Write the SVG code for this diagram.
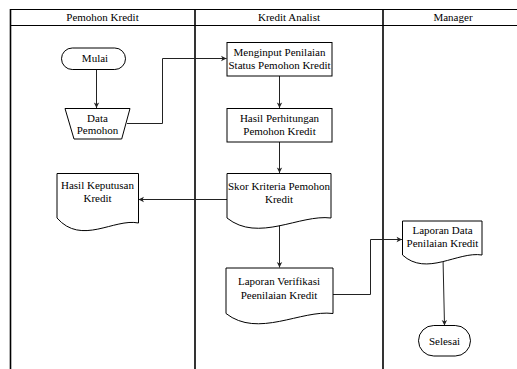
<svg xmlns="http://www.w3.org/2000/svg" width="517" height="369" viewBox="0 0 517 369">
<defs>
<style>
.t text{font-family:'Liberation Serif','Times New Roman','DejaVu Serif',serif;font-size:11px;fill:#000;text-anchor:middle}
.lane{stroke:#000;stroke-width:1.6;fill:none}
.hd{stroke:#000;stroke-width:1.2;fill:none}
.sh{fill:#fff;stroke:#000;stroke-width:1}
.cn{fill:none;stroke:#222;stroke-width:1}
</style>
<marker id="ah" markerWidth="7" markerHeight="7" refX="6" refY="3.5" orient="auto" markerUnits="userSpaceOnUse">
<path d="M0.5,0.8 L6,3.5 L0.5,6.2 L2,3.5 z" fill="#222"/>
</marker>
</defs>
<rect width="517" height="369" fill="#fff"/>
<g class="t" font-family="Liberation Serif, serif" font-size="11" text-anchor="middle">
<g id="lanes">
<line class="hd" x1="10" y1="9.5" x2="517" y2="9.5"/>
<line class="hd" x1="10" y1="25.5" x2="517" y2="25.5"/>
<line class="lane" x1="10.5" y1="9" x2="10.5" y2="369"/>
<line class="lane" x1="195" y1="9" x2="195" y2="369"/>
<line class="lane" x1="383" y1="9" x2="383" y2="369"/>
<text x="102.5" y="20.5">Pemohon Kredit</text>
<text x="289" y="20.5">Kredit Analist</text>
<text x="453" y="20.5">Manager</text>
</g>
<g id="connectors">
<line class="cn" x1="96.5" y1="69.5" x2="96.5" y2="108" marker-end="url(#ah)"/>
<polyline class="cn" points="127,123.5 162.5,123.5 162.5,58.5 226.5,58.5" marker-end="url(#ah)"/>
<line class="cn" x1="279.5" y1="76" x2="279.5" y2="108" marker-end="url(#ah)"/>
<line class="cn" x1="279.5" y1="142" x2="279.5" y2="173" marker-end="url(#ah)"/>
<line class="cn" x1="227" y1="199.5" x2="138.5" y2="199.5" marker-end="url(#ah)"/>
<line class="cn" x1="279.5" y1="221" x2="279.5" y2="267.5" marker-end="url(#ah)"/>
<polyline class="cn" points="333,294.5 370.5,294.5 370.5,239.5 402,239.5" marker-end="url(#ah)"/>
<line class="cn" x1="443" y1="258" x2="444.5" y2="325.5" marker-end="url(#ah)"/>
</g>
<g id="mulai">
<rect class="sh" x="61.5" y="48" width="64" height="21.5" rx="10.75"/>
<text x="95" y="62">Mulai</text>
</g>
<g id="data-pemohon">
<polygon class="sh" points="65,108.5 130,108.5 121.7,139 74,139"/>
<text x="97.5" y="121.5">Data</text>
<text x="97.5" y="134">Pemohon</text>
</g>
<g id="menginput">
<rect class="sh" x="227" y="42.5" width="105" height="33.5"/>
<text x="279.5" y="56">Menginput Penilaian</text>
<text x="279.5" y="69">Status Pemohon Kredit</text>
</g>
<g id="hasil-perhitungan">
<rect class="sh" x="227" y="108.5" width="105" height="33.5"/>
<text x="279.5" y="121.5">Hasil Perhitungan</text>
<text x="279.5" y="134.5">Pemohon Kredit</text>
</g>
<g id="skor">
<path class="sh" d="M227,173.5 H331 V218 C299.8,214 258.2,243 227,218 Z"/>
<text x="279" y="189.5">Skor Kriteria Pemohon</text>
<text x="279" y="203">Kredit</text>
</g>
<g id="hasil-keputusan">
<path class="sh" d="M57,173.5 H138.5 V223 C114,218 81.5,246 57,218 Z"/>
<text x="97.5" y="188.5">Hasil Keputusan</text>
<text x="97.5" y="202">Kredit</text>
</g>
<g id="laporan-verifikasi">
<path class="sh" d="M226,268 H333 V313.5 C301,309.5 258,338.5 226,313.5 Z"/>
<text x="279" y="285">Laporan Verifikasi</text>
<text x="279" y="298.5">Peenilaian Kredit</text>
</g>
<g id="laporan-data">
<path class="sh" d="M402.5,221 H482 V255 C458,251 426.5,277 402.5,255 Z"/>
<text x="442.5" y="233.5">Laporan Data</text>
<text x="442.5" y="246.5">Penilaian Kredit</text>
</g>
<g id="selesai">
<rect class="sh" x="418.5" y="325.5" width="52" height="30.5" rx="15.25"/>
<text x="444.5" y="344.5">Selesai</text>
</g>
</g>
</svg>
